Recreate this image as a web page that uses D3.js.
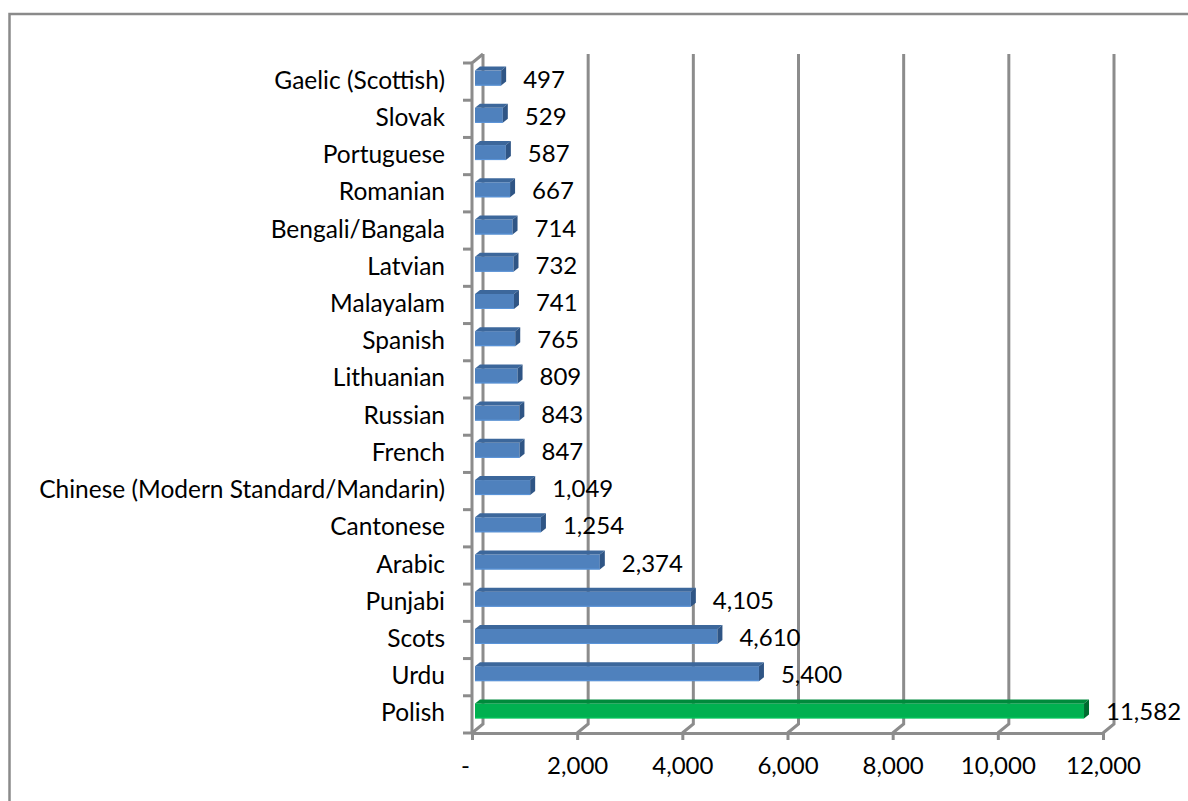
<!DOCTYPE html>
<html>
<head>
<meta charset="utf-8">
<script src="https://cdn.jsdelivr.net/npm/d3@7"></script>
<style>
  body { margin: 0; background: #fff; }
  text { font-family: Lato, "Open Sans", sans-serif; fill: #000; }
</style>
</head>
<body>
<svg id="chart" width="1188" height="801"></svg>
<script>
// languages, top to bottom as they appear in the chart
const languages = ["Gaelic (Scottish)", "Slovak", "Portuguese", "Romanian", "Bengali/Bangala",
  "Latvian", "Malayalam", "Spanish", "Lithuanian", "Russian", "French",
  "Chinese (Modern Standard/Mandarin)", "Cantonese", "Arabic", "Punjabi", "Scots", "Urdu", "Polish"];
const speakers = [497, 529, 587, 667, 714, 732, 741, 765, 809, 843, 847, 1049, 1254, 2374, 4105, 4610, 5400, 11582];
const highlighted = ["Polish"];
const xTicks = [0, 2000, 4000, 6000, 8000, 10000, 12000];

const data = languages.map((l, i) => ({lang: l, value: speakers[i]}));

const svg = d3.select('#chart');
const fontSize = 24.5;
const numSize = 24;

// 3d offsets (wall depth and bar depth)
const depth = {dx: 11, dy: -9};
const barDepth = {dx: 5, dy: -4};
const barShift = 3;

// outer chart border
svg.append('path')
  .attr('d', 'M9.5,801 L9.5,14 L1188,14')
  .attr('fill', 'none')
  .attr('stroke', '#8a8a8a')
  .attr('stroke-width', 2.5);

const xScale = d3.scaleLinear().domain([0, 12000]).range([472, 1103]);
const yScale = d3.scaleBand().domain(languages).range([63, 733]);
const yBottom = 733, yTop = 63;

const grid = svg.append('g').attr('class', 'grid');
const lineCol = '#8c8c8c';

// back wall gridlines + floor diagonals
xTicks.forEach(t => {
  const x = xScale(t);
  grid.append('path')
    .attr('d', `M${x},${yBottom} L${x + depth.dx},${yBottom + depth.dy} L${x + depth.dx},${yTop + depth.dy}`)
    .attr('fill', 'none')
    .attr('stroke', lineCol)
    .attr('stroke-width', 3);
});

// left wall: front vertical line and top diagonal
grid.append('path')
  .attr('d', `M${xScale(0) + depth.dx},${yTop + depth.dy} L${xScale(0)},${yTop} L${xScale(0)},${yBottom}`)
  .attr('fill', 'none')
  .attr('stroke', lineCol)
  .attr('stroke-width', 3);

// front x axis
const xAxis = d3.axisBottom(xScale)
  .tickValues(xTicks)
  .tickSize(7)
  .tickSizeOuter(0)
  .tickFormat(d => d === 0 ? '-' : d3.format(',')(d));
const xAxisG = svg.append('g')
  .attr('transform', `translate(0,${yBottom})`)
  .call(xAxis);
xAxisG.select('.domain').attr('stroke', lineCol).attr('stroke-width', 3);
xAxisG.selectAll('.tick line').attr('stroke', lineCol).attr('stroke-width', 3);
xAxisG.selectAll('.tick text')
  .attr('font-size', numSize)
  .attr('font-family', 'Lato')
  .attr('fill', '#000')
  .attr('y', 41)
  .attr('dy', 0)
  .attr('dx', d => d === 0 ? -7 : 0);

// left category axis (ticks at band boundaries)
const bounds = languages.map(l => yScale(l)).concat([yBottom]);
svg.append('g').selectAll('line').data(bounds).join('line')
  .attr('x1', xScale(0) - 9)
  .attr('x2', xScale(0))
  .attr('y1', d => d)
  .attr('y2', d => d)
  .attr('stroke', lineCol)
  .attr('stroke-width', 3);

svg.append('g').selectAll('text').data(data).join('text')
  .attr('x', 445)
  .attr('y', d => yScale(d.lang) + yScale.bandwidth() / 2 + 7)
  .attr('text-anchor', 'end')
  .attr('font-size', fontSize)
  .text(d => d.lang);

// bars
const colours = {
  normal: {front: '#4f81bd', top: '#3c679b', side: '#2f5585'},
  high: {front: '#00b050', top: '#008a3c', side: '#006b2f'}
};

const bars = svg.append('g').selectAll('g').data(data).join('g');
bars.each(function(d) {
  const g = d3.select(this);
  const c = highlighted.includes(d.lang) ? colours.high : colours.normal;
  const mid = yScale(d.lang) + yScale.bandwidth() / 2;
  const x0 = xScale(0) + barShift, x1 = xScale(d.value) + barShift;
  const yt = mid - 11, yb = mid + 4;
  g.append('rect')
    .attr('x', x0).attr('y', yt)
    .attr('width', x1 - x0).attr('height', yb - yt)
    .attr('fill', c.front);
  g.append('polygon')
    .attr('points', [[x0, yt], [x1, yt], [x1 + barDepth.dx, yt + barDepth.dy], [x0 + barDepth.dx, yt + barDepth.dy]].join(' '))
    .attr('fill', c.top);
  g.append('polygon')
    .attr('points', [[x1, yt], [x1 + barDepth.dx, yt + barDepth.dy], [x1 + barDepth.dx, yb + barDepth.dy], [x1, yb]].join(' '))
    .attr('fill', c.side);
  g.append('line')
    .attr('x1', x0).attr('x2', x1)
    .attr('y1', yb - 0.5).attr('y2', yb - 0.5)
    .attr('stroke', d3.color(c.front).brighter(0.4))
    .attr('stroke-width', 1);
  g.append('text')
    .attr('x', x1 + barDepth.dx + 17)
    .attr('y', mid + 6)
    .attr('font-size', numSize)
    .text(d3.format(',')(d.value));
});
</script>
</body>
</html>
